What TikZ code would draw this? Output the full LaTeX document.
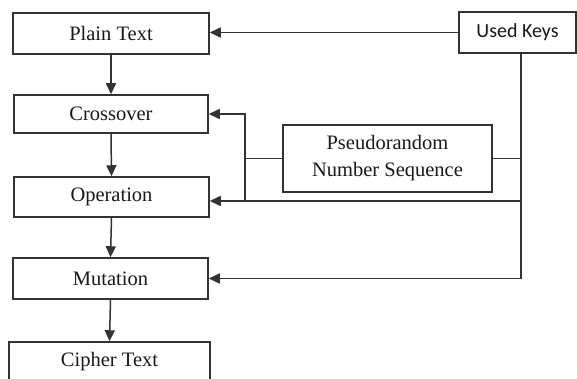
\documentclass[tikz,border=0pt]{standalone}
\usepackage{fontspec}
\setmainfont{Liberation Serif}
\newfontfamily\keyfont{Carlito}
\usetikzlibrary{arrows.meta}
\definecolor{ln}{HTML}{333333}
\begin{document}
\begin{tikzpicture}[x=1pt,y=-1pt,
  box/.style={draw=ln,line width=1.5pt,fill=white,inner sep=0pt,align=center,
    font=\fontsize{20.5}{27}\selectfont,text=black!90},
  conn/.style={draw=ln,line width=1.5pt},
  arr/.style={conn,-{Triangle[length=11pt,width=10pt]}}]
\clip (0,0) rectangle (577,379);
\fill[white] (0,0) rectangle (577,379);
\node[box,minimum width=196pt,minimum height=41pt] (plain) at (111,33.5) {Plain Text};
\node[box,minimum width=194pt,minimum height=38pt] (cross) at (111,114) {Crossover};
\node[box,minimum width=195pt,minimum height=40pt] (op) at (111.5,197) {Operation};
\node[box,minimum width=195pt,minimum height=41pt] (mut) at (110.5,278.5) {Mutation};
\node[box,minimum width=201pt,minimum height=40pt] (ciph) at (109.5,362) {Cipher Text};
\node[box,minimum width=117pt,minimum height=41pt,font=\keyfont\fontsize{20}{24}\selectfont] (keys) at (517.5,32.5) {Used Keys};
\node[box,minimum width=209pt,minimum height=67pt] (prng) at (387.5,158.5) {Pseudorandom\\Number Sequence};
\coordinate (kx) at (521,0);
\coordinate (jn) at (245,158.5);
\coordinate (opl) at (521,201);
\coordinate (jd) at (245,201);
\draw[arr] (plain.south) -- (cross.north);
\draw[arr] (cross.south) -- (op.north);
\draw[arr] (op.south) -- (mut.north);
\draw[arr] (mut.south) -- (ciph.north);
\draw[arr] (keys.west) -- (keys.west -| plain.east);
\draw[arr] (keys.south -| kx) |- (mut.east);
\draw[conn] (prng.east) -- (prng.east -| kx);
\draw[arr] (opl) -- (opl -| op.east);
\draw[conn] (prng.west) -- (jn);
\draw[arr] (jn) |- (cross.east);
\draw[conn] (jn) -- (jd);
\end{tikzpicture}
\end{document}
